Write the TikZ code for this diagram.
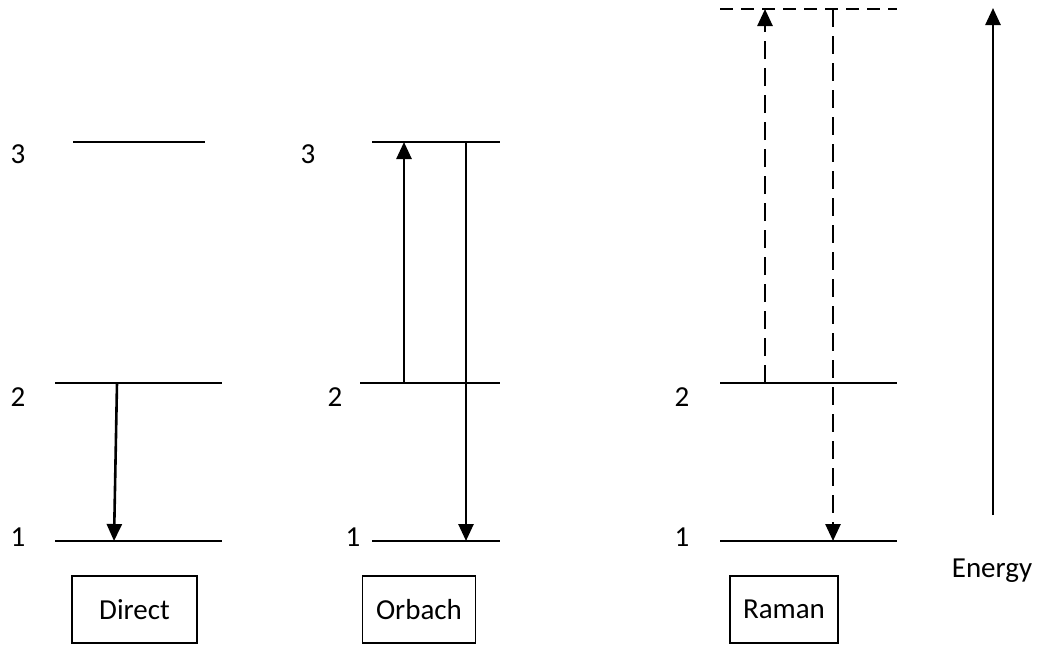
\documentclass[tikz,border=0pt]{standalone}
\usepackage{fontspec}
\setmainfont{Carlito}
\usetikzlibrary{arrows.meta}
\begin{document}
\begin{tikzpicture}[x=1pt,y=-1pt,
  level/.style={line width=2pt},
  trans/.style={line width=2.6pt,-{Triangle[width=15pt,length=17pt]}},
  dashtrans/.style={trans,dash pattern=on 18pt off 9pt},
  lbl/.style={font=\fontsize{29}{33}\selectfont,inner sep=0pt},
  box/.style={draw,line width=1.6pt,minimum width=125pt,minimum height=67pt,font=\fontsize{29}{33}\selectfont}]
\useasboundingbox (0,0) rectangle (1041,648);
% Direct
\draw[level] (73,142) -- (205,142);
\draw[level] (55,383) -- (222,383);
\draw[level] (55,541) -- (222,541);
\node[lbl] (d3) at (18,154) {3};
\node[lbl] (d2) at (18,397) {2};
\node[lbl] (d1) at (18,537) {1};
\coordinate (da) at (117,383);
\coordinate (db) at (114,541);
\draw[trans] (da) -- (db);
\node[box] (dbox) at (134.5,609.5) {Direct};
% Orbach
\draw[level] (372,142) -- (500,142);
\draw[level] (360,383) -- (500,383);
\draw[level] (372,541) -- (500,541);
\node[lbl] (o3) at (308,154) {3};
\node[lbl] (o2) at (335,397) {2};
\node[lbl] (o1) at (353,537) {1};
\coordinate (oa) at (404,383);
\coordinate (ob) at (404,142);
\coordinate (oc) at (466,142);
\coordinate (od) at (466,541);
\draw[trans] (oa) -- (ob);
\draw[trans] (oc) -- (od);
\node[box,minimum width=113pt] (obox) at (419,609.5) {Orbach};
% Raman
\draw[level,dash pattern=on 13pt off 8pt] (720,9) -- (897,9);
\draw[level] (720,383) -- (897,383);
\draw[level] (720,541) -- (897,541);
\node[lbl] (r2) at (682,397) {2};
\node[lbl] (r1) at (682,537) {1};
\coordinate (ra) at (765,383);
\coordinate (rb) at (765,9);
\coordinate (rc) at (833,9);
\coordinate (rd) at (833,541);
\draw[dashtrans] (ra) -- (rb);
\draw[dashtrans] (rc) -- (rd);
\node[box,minimum width=108pt] (rbox) at (784,609.5) {Raman};
% Energy
\coordinate (ea) at (993,515);
\coordinate (eb) at (993,8);
\draw[trans] (ea) -- (eb);
\node[lbl] (en) at (992,571) {Energy};
\end{tikzpicture}
\end{document}
